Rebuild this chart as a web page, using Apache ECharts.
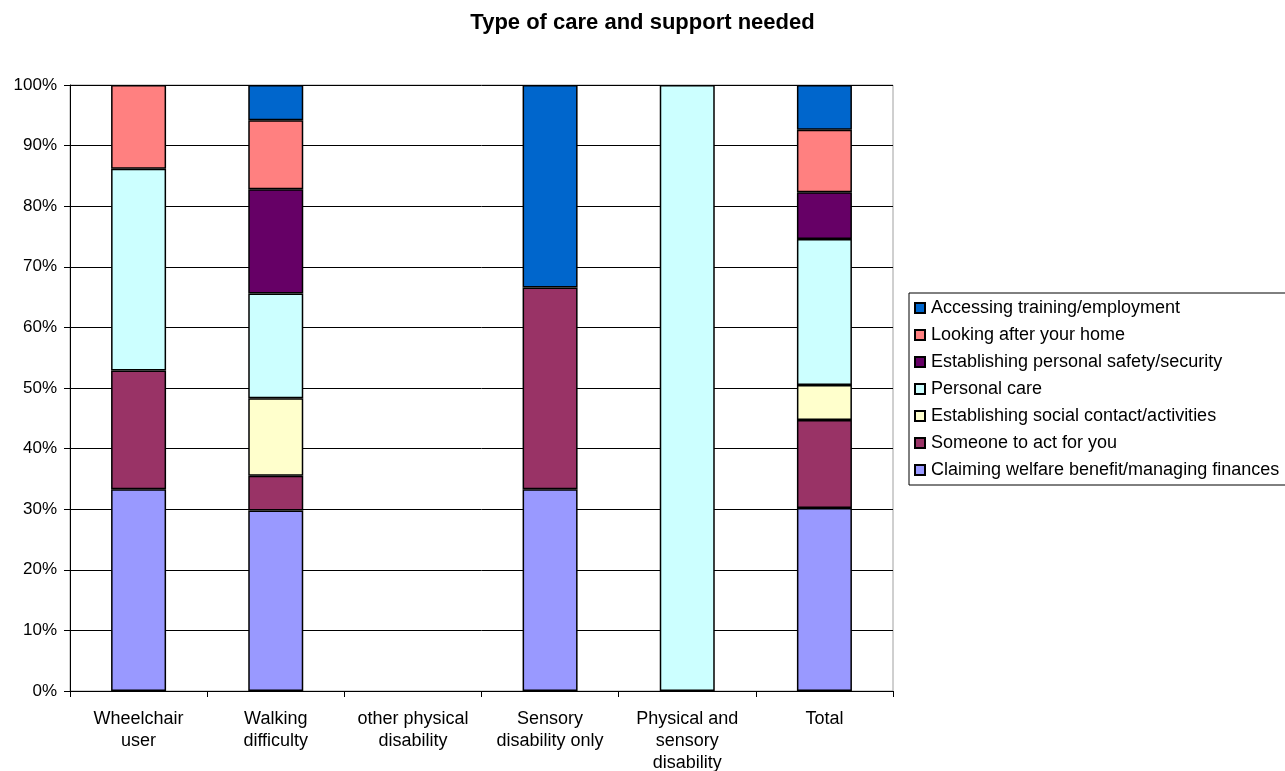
<!DOCTYPE html>
<html>
<head>
<meta charset="utf-8">
<script src="https://cdn.jsdelivr.net/npm/echarts@6/dist/echarts.min.js"></script>
<style>
html,body{margin:0;padding:0;background:#fff;}
#chart{width:1285px;height:771px;}
</style>
</head>
<body>
<div id="chart"></div>
<script>
// Disability groups along the x axis
const categories = [
  'Wheelchair\nuser',
  'Walking\ndifficulty',
  'other physical\ndisability',
  'Sensory\ndisability only',
  'Physical and\nsensory\ndisability',
  'Total'
];

// Share of each type of support (%), bottom of the stack first
const claimingWelfare   = [33.3, 29.8, null, 33.3, null, 30.2];
const someoneToAct      = [19.6, 5.7,  null, 33.3, null, 14.5];
const socialContact     = [null, 12.8, null, null, null, 5.8];
const personalCare      = [33.3, 17.3, null, null, 100,  24.1];
const personalSafety    = [null, 17.2, null, null, null, 7.7];
const lookingAfterHome  = [13.8, 11.4, null, null, null, 10.3];
const accessingTraining = [null, 5.8,  null, 33.4, null, 7.4];

const yTicks = [0, 10, 20, 30, 40, 50, 60, 70, 80, 90, 100];

const seriesDefs = [
  ['Claiming welfare benefit/managing finances', claimingWelfare,   '#9999FF'],
  ['Someone to act for you',                     someoneToAct,      '#993366'],
  ['Establishing social contact/activities',     socialContact,     '#FFFFCC'],
  ['Personal care',                              personalCare,      '#CCFFFF'],
  ['Establishing personal safety/security',      personalSafety,    '#660066'],
  ['Looking after your home',                    lookingAfterHome,  '#FF8080'],
  ['Accessing training/employment',              accessingTraining, '#0066CC']
];

const font = '"Liberation Sans", Arial, sans-serif';

const chart = echarts.init(document.getElementById('chart'));
chart.setOption({
  animation: false,
  backgroundColor: '#fff',
  textStyle: { fontFamily: font },
  title: {
    text: 'Type of care and support needed',
    left: 'center',
    top: 7,
    textStyle: { fontFamily: font, fontSize: 22, fontWeight: 'bold', color: '#000' }
  },
  legend: {
    orient: 'vertical',
    left: 909,
    top: 293,
    data: seriesDefs.map(d => d[0]).reverse(),
    itemWidth: 10,
    itemHeight: 10,
    itemGap: 9,
    padding: [6, 40, 6, 5],
    backgroundColor: '#fff',
    borderColor: '#000',
    borderWidth: 1,
    borderRadius: 0,
    icon: 'rect',
    textStyle: { fontFamily: font, fontSize: 18, color: '#000', lineHeight: 18, padding: [0, 0, 0, 1] }
  },
  grid: {
    left: 70,
    right: 392,
    top: 85,
    bottom: 80,
    outerBoundsMode: 'none',
    containLabel: false,
    show: true,
    borderColor: '#a0a0a0',
    borderWidth: 1
  },
  xAxis: {
    type: 'category',
    data: categories,
    axisLine: { lineStyle: { color: '#000', width: 1 } },
    axisTick: { show: true, length: 6, lineStyle: { color: '#000' } },
    axisLabel: {
      interval: 0,
      margin: 17,
      fontFamily: font,
      fontSize: 18,
      lineHeight: 22,
      color: '#000'
    }
  },
  yAxis: {
    type: 'value',
    min: yTicks[0],
    max: yTicks[yTicks.length - 1],
    interval: 10,
    axisLine: { show: true, lineStyle: { color: '#000', width: 1 } },
    axisTick: { show: true, length: 6, lineStyle: { color: '#000' } },
    axisLabel: {
      formatter: '{value}%',
      margin: 13,
      fontFamily: font,
      fontSize: 17,
      color: '#000'
    },
    splitLine: { show: true, lineStyle: { color: '#000', width: 1 } }
  },
  series: seriesDefs.map(([name, values, color]) => ({
    name,
    type: 'bar',
    stack: 'care',
    data: values,
    barWidth: 55,
    itemStyle: { color, borderColor: '#000', borderWidth: 1.5 },
    emphasis: { disabled: true }
  }))
});
</script>
</body>
</html>
